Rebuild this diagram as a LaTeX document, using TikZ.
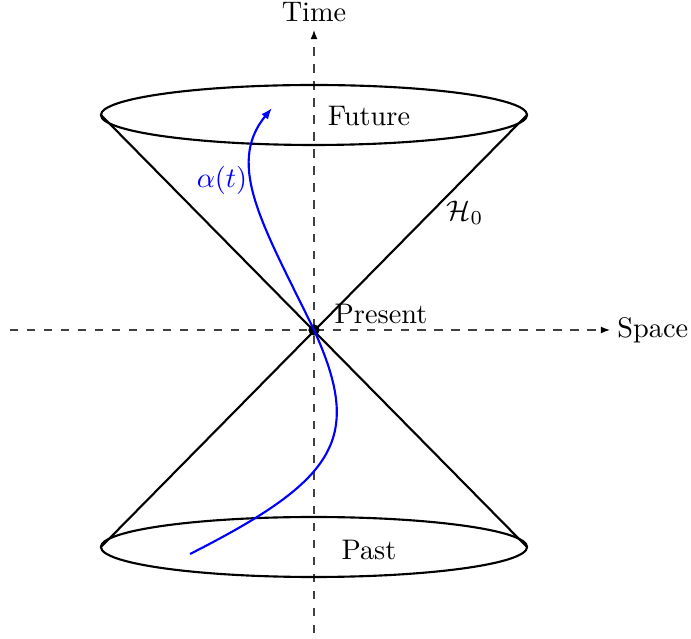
\documentclass[tikz,border=0pt]{standalone}
\usetikzlibrary{arrows.meta}
\begin{document}
\begin{tikzpicture}[x=0.3534pt,y=-0.3534pt,
  axis/.style={dashed,black!75,line width=0.4pt,-{Latex[length=3.2pt,width=2.4pt,black]}},
  cone/.style={black,line width=0.75pt},
  worldline/.style={blue,line width=0.75pt,-{Latex[length=4pt,width=3pt]}},
  lbl/.style={inner sep=1pt}]
\useasboundingbox (0,0) rectangle (691,639);
% axes
\coordinate (xa) at (10,330);
\coordinate (xb) at (610,330);
\coordinate (ya) at (314,633);
\coordinate (yb) at (314,30);
\draw[axis] (xa) -- (xb);
\draw[axis] (ya) -- (yb);
\node[lbl,anchor=west] (space) at (614,330) {Space};
\node[lbl] (time) at (314,12) {Time};
% cones
\coordinate (T) at (314,115);
\coordinate (B) at (314,547);
\coordinate (TL) at (101,115);
\coordinate (TR) at (527,115);
\coordinate (BL) at (101,547);
\coordinate (BR) at (527,547);
\draw[cone] (T) ellipse [x radius=75.3pt, y radius=10.6pt];
\draw[cone] (B) ellipse [x radius=75.3pt, y radius=10.6pt];
\draw[cone] (TL) -- (BR);
\draw[cone] (TR) -- (BL);
\node[circle,fill=black,inner sep=0pt,minimum size=4pt] (O) at (314,330) {};
% labels
\node[lbl] (future) at (369,116) {Future};
\node[lbl] (past) at (369,550) {Past};
\node[lbl] (present) at (381,314) {Present};
\node[lbl] (h0) at (465,213) {$\mathcal{H}_0$};
\node[lbl,text=blue] (alpha) at (222,180) {$\alpha(t)$};
% world line
\coordinate (S) at (190,554);
\coordinate (E) at (272,108);
\draw[worldline] (S) .. controls (338,479) and (363,438) .. (O.center)
  .. controls (264,227) and (225,165) .. (E);
\end{tikzpicture}
\end{document}
